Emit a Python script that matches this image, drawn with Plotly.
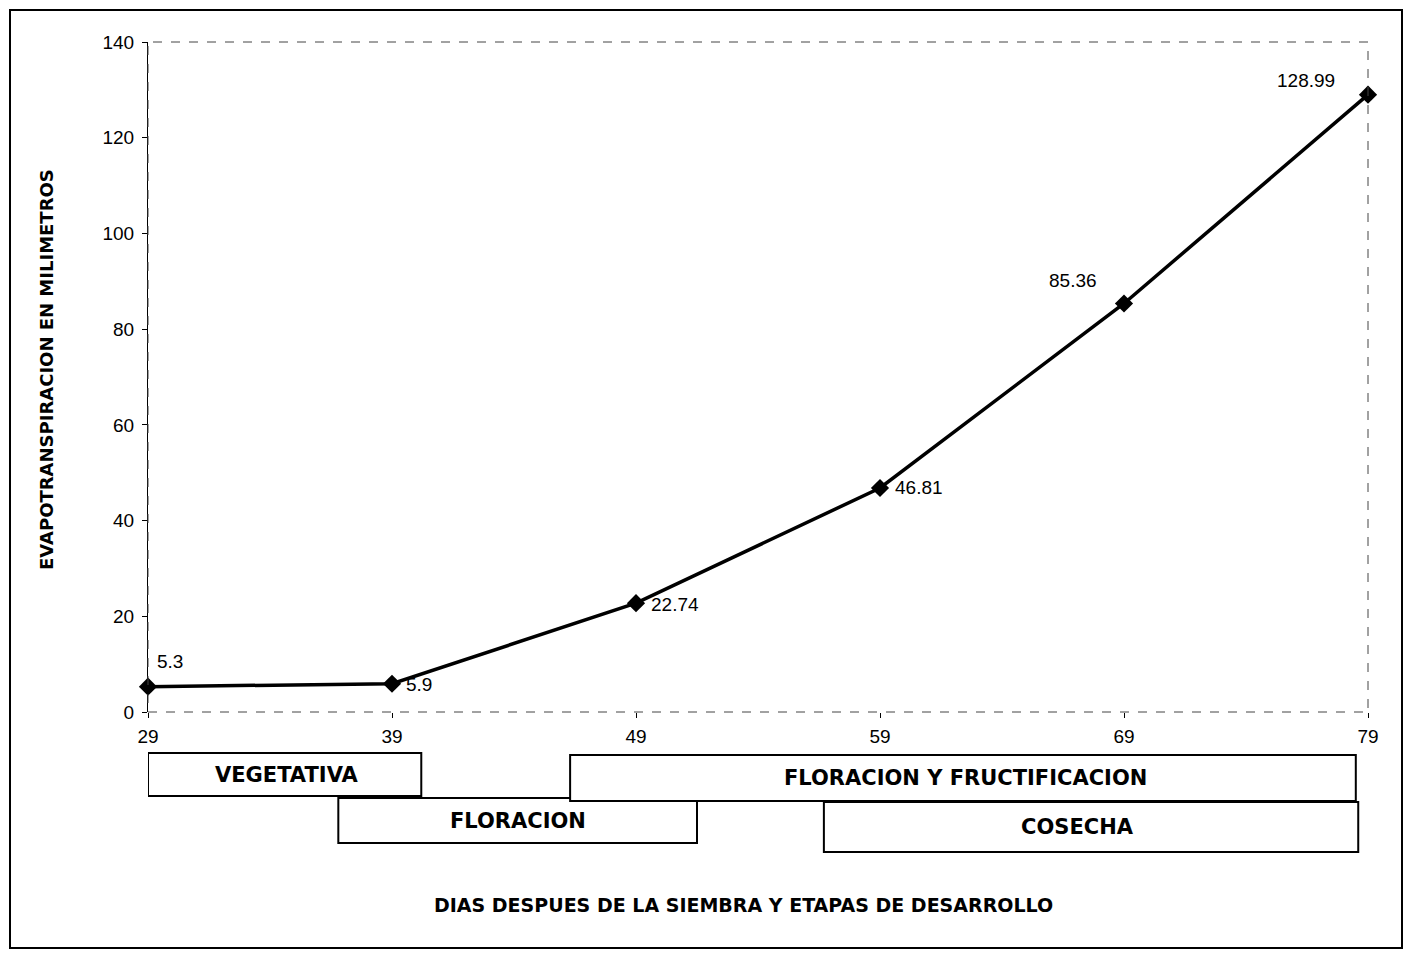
import plotly.graph_objects as go

# ---- data ----
days = [29, 39, 49, 59, 69, 79]
evapo = [5.3, 5.9, 22.74, 46.81, 85.36, 128.99]
label_text = ["5.3", "5.9", "22.74", "46.81", "85.36", "128.99"]
y_ticks = [0, 20, 40, 60, 80, 100, 120, 140]

stage_names = ["VEGETATIVA", "FLORACION", "FLORACION Y FRUCTIFICACION", "COSECHA"]
stage_start = [29, 36.8, 46.3, 56.7]
stage_end = [40.2, 51.5, 78.5, 78.6]

# ---- layout geometry (pixels) ----
W, H = 1411, 960
L, R, T, B = 148, 1368, 42, 712


def px(xp):
    return (xp - L) / (R - L)


def py(yp):
    return (B - yp) / (B - T)


# label placement: (xanchor, xshift, yshift)
label_place = [("left", 7, 25), ("left", 12, -1), ("left", 13, -1),
               ("left", 13, 0), ("right", -25, 23), ("right", -31, 14)]

stage_rows = [(753, 796), (798, 843), (755, 801), (802, 852)]
stage_xshift = [2, 0, 3, -14]

fig = go.Figure()
fig.add_trace(go.Scatter(
    x=days, y=evapo, mode="lines+markers",
    line=dict(color="black", width=3.5),
    marker=dict(symbol="diamond", size=14, color="black"),
    cliponaxis=False, showlegend=False,
))

shapes = []
annotations = []
# outer frame
shapes.append(dict(type="rect", xref="paper", yref="paper",
                   x0=px(10), x1=px(1402), y0=py(948), y1=py(10),
                   line=dict(color="black", width=2)))
# plot frame (dashed, scan-like)
shapes.append(dict(type="rect", xref="paper", yref="paper",
                   x0=0, x1=1, y0=0, y1=1,
                   line=dict(color="#444", width=1, dash="dash")))

for d, v, t, (xa, xs, ys) in zip(days, evapo, label_text, label_place):
    annotations.append(dict(x=d, y=v, xref="x", yref="y", text=t, showarrow=False,
                            xanchor=xa, yanchor="middle", xshift=xs, yshift=ys,
                            font=dict(family="Liberation Sans, Arial", size=19, color="black")))

for name, s, e, (y0, y1), xs in zip(stage_names, stage_start, stage_end, stage_rows, stage_xshift):
    shapes.append(dict(type="rect", xref="x", yref="paper",
                       x0=s, x1=e, y0=py(y1), y1=py(y0),
                       line=dict(color="black", width=2), fillcolor="white"))
    annotations.append(dict(x=(s + e) / 2, y=py((y0 + y1) / 2), xref="x", yref="paper",
                            text="<b>" + name + "</b>", showarrow=False, xshift=xs,
                            xanchor="center", yanchor="middle",
                            font=dict(family="DejaVu Sans", size=21, color="black")))

annotations.append(dict(x=px(743), y=py(905), xref="paper", yref="paper",
                        text="<b>DIAS DESPUES DE LA SIEMBRA Y ETAPAS DE DESARROLLO</b>",
                        showarrow=False, xanchor="center", yanchor="middle",
                        font=dict(family="DejaVu Sans", size=19, color="black")))
annotations.append(dict(x=px(47), y=py(370), xref="paper", yref="paper",
                        text="<b>EVAPOTRANSPIRACION EN MILIMETROS</b>", textangle=-90,
                        showarrow=False, xanchor="center", yanchor="middle",
                        font=dict(family="DejaVu Sans", size=18, color="black")))

fig.update_layout(
    width=W, height=H,
    margin=dict(l=L, r=W - R, t=T, b=H - B),
    paper_bgcolor="white", plot_bgcolor="white",
    shapes=shapes, annotations=annotations,
    font=dict(family="Liberation Sans, Arial", size=19, color="black"),
)
fig.update_xaxes(range=[29, 79], tickvals=days, ticktext=[str(d) for d in days],
                 showgrid=False, zeroline=False, showline=False,
                 ticks="outside", ticklen=5, tickcolor="black",
                 ticklabelstandoff=2, tickfont=dict(size=19))
fig.update_yaxes(range=[0, 140], tickvals=y_ticks,
                 showgrid=False, zeroline=False, showline=True, linecolor="black", linewidth=1,
                 ticks="outside", ticklen=5, tickcolor="black",
                 ticklabelstandoff=4, tickfont=dict(size=19))

fig.write_html("out.html")
